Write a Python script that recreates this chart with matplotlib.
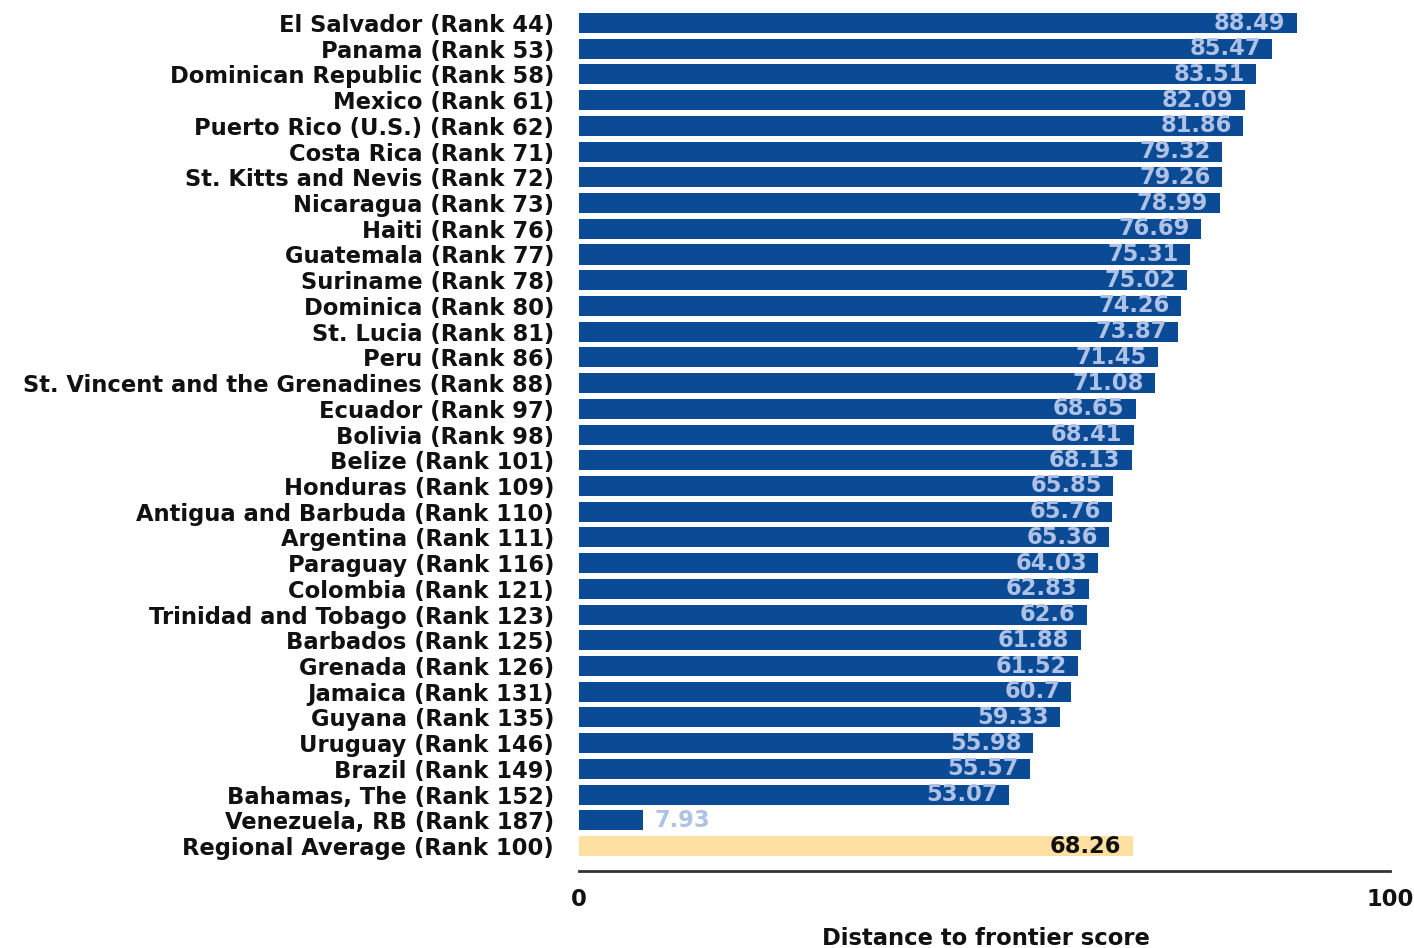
import matplotlib
matplotlib.use("Agg")
import matplotlib.pyplot as plt

countries = ["El Salvador", "Panama", "Dominican Republic", "Mexico", "Puerto Rico (U.S.)",
             "Costa Rica", "St. Kitts and Nevis", "Nicaragua", "Haiti", "Guatemala",
             "Suriname", "Dominica", "St. Lucia", "Peru", "St. Vincent and the Grenadines",
             "Ecuador", "Bolivia", "Belize", "Honduras", "Antigua and Barbuda",
             "Argentina", "Paraguay", "Colombia", "Trinidad and Tobago", "Barbados",
             "Grenada", "Jamaica", "Guyana", "Uruguay", "Brazil", "Bahamas, The",
             "Venezuela, RB", "Regional Average"]
ranks = [44, 53, 58, 61, 62, 71, 72, 73, 76, 77, 78, 80, 81, 86, 88, 97, 98, 101, 109,
         110, 111, 116, 121, 123, 125, 126, 131, 135, 146, 149, 152, 187, 100]
scores = [88.49, 85.47, 83.51, 82.09, 81.86, 79.32, 79.26, 78.99, 76.69, 75.31,
          75.02, 74.26, 73.87, 71.45, 71.08, 68.65, 68.41, 68.13, 65.85, 65.76,
          65.36, 64.03, 62.83, 62.6, 61.88, 61.52, 60.7, 59.33, 55.98, 55.57, 53.07,
          7.93, 68.26]
score_labels = ["88.49", "85.47", "83.51", "82.09", "81.86", "79.32", "79.26", "78.99",
                "76.69", "75.31", "75.02", "74.26", "73.87", "71.45", "71.08", "68.65",
                "68.41", "68.13", "65.85", "65.76", "65.36", "64.03", "62.83", "62.6",
                "61.88", "61.52", "60.7", "59.33", "55.98", "55.57", "53.07", "7.93", "68.26"]
x_ticks = [0, 100]
x_label = "Distance to frontier score"

BLUE = "#0B4A94"
GOLD = "#FFE0A3"
VAL_COLOR = "#AFC2E6"
FS = 16.3

fig = plt.figure(figsize=(14.14, 9.48), dpi=100)
ax = fig.add_axes([0.4095, 0.0812, 0.5735, 0.9081])

n = len(countries)
ypos = list(range(n))
colors = [BLUE] * (n - 1) + [GOLD]
ax.barh(ypos, scores, height=0.78, color=colors, edgecolor="none")

ax.set_xlim(0, 100)
ax.set_ylim(32.97, -0.5)

labels = [f"{c} (Rank {r})" for c, r in zip(countries, ranks)]
ax.set_yticks(ypos)
ax.set_yticklabels(labels, fontsize=FS, fontweight="bold", color="#111111")
ax.tick_params(axis="y", length=0, pad=18)

ax.set_xticks(x_ticks)
ax.set_xticklabels([str(t) for t in x_ticks], fontsize=FS, fontweight="bold", color="#111111")
ax.tick_params(axis="x", length=0, pad=12)

for s in ["top", "right", "left"]:
    ax.spines[s].set_visible(False)
ax.spines["bottom"].set_color("#333333")
ax.spines["bottom"].set_linewidth(2)

for i, (v, lab) in enumerate(zip(scores, score_labels)):
    if i == n - 1:
        ax.text(v - 1.4, i, lab, ha="right", va="center", fontsize=FS,
                fontweight="bold", color="#111111")
    elif v < 20:
        ax.text(v + 1.4, i, lab, ha="left", va="center", fontsize=FS,
                fontweight="bold", color=VAL_COLOR)
    else:
        ax.text(v - 1.4, i, lab, ha="right", va="center", fontsize=FS,
                fontweight="bold", color=VAL_COLOR)

fig.text(0.697, 0.0105, x_label, ha="center", va="center", fontsize=FS,
         fontweight="bold", color="#111111")

fig.savefig("out.png", dpi=100)
